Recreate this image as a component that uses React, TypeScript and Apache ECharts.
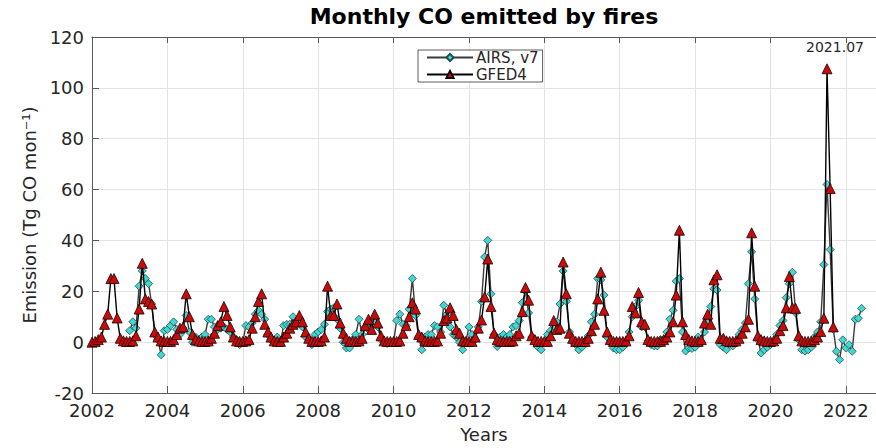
import React, { useEffect, useRef } from "react";
import * as echarts from "echarts";

// Monthly values, GFED4 from Jan 2002, AIRS v7 from Jan 2003
const gfedStartYear = 2002;
const airsStartYear = 2003;

const gfed4: number[] = [
  // 2002
  0, 0.3, 1, 2, 7, 11, 25, 25, 9.5, 1.5, 0.5, 0.3,
  // 2003
  0.3, 0.5, 2.5, 13, 31, 17, 16, 15, 4, 2, 0.5, 0.3,
  // 2004
  0.3, 0.3, 1, 3, 5.5, 6, 19, 10, 3, 1, 0.5, 0.3,
  // 2005
  0.3, 0.5, 1.5, 3.5, 6.5, 8, 14, 10.5, 6, 2, 0.5, 0.3,
  // 2006
  0.3, 0.5, 1, 5.5, 10, 16, 19, 7, 4, 2, 0.5, 0.3,
  // 2007
  0.3, 2, 3.5, 5.5, 7, 8, 10.5, 8, 4, 1.5, 0.3, 0.3,
  // 2008
  0.3, 0.5, 2, 22, 10.5, 10.5, 15, 7.5, 3.5, 1.5, 0.3, 0.3,
  // 2009
  0.3, 0.5, 1.5, 6.5, 9, 5, 11, 7.5, 2.5, 0.5, 0.3, 0.3,
  // 2010
  0.3, 0.3, 0.5, 3.5, 6.5, 10, 15.5, 13, 3, 2, 0.5, 0.3,
  // 2011
  0.3, 0.3, 0.5, 3.5, 8.5, 9.5, 13.5, 10.5, 5, 3.5, 0.5, 0.3,
  // 2012
  0.3, 0.3, 2, 5.5, 8.7, 17.8, 32.7, 14, 3.5, 1, 0.3, 0.3,
  // 2013
  0.3, 0.3, 0.5, 2.5, 3.5, 12, 21.5, 16.5, 2.5, 1, 0.3, 0.3,
  // 2014
  0.3, 0.3, 2.5, 8.5, 5, 5.5, 31.5, 19, 3.5, 1.5, 0.3, 0.3,
  // 2015
  0.3, 0.3, 1.5, 4.5, 7, 17, 27.5, 12.5, 4, 1, 0.3, 0.3,
  // 2016
  0.3, 0.3, 0.5, 2.5, 14, 11.5, 19.5, 8, 7, 1, 0.3, 0.3,
  // 2017
  0.3, 0.3, 1, 2, 4, 8, 18.5, 44, 8, 3, 1, 0.5,
  // 2018
  0.3, 0.3, 1, 7.5, 11, 7, 24.5, 26.5, 1.5, 1.5, 0.5, 0.3,
  // 2019
  0.3, 0.5, 1.5, 3.5, 6, 9, 43, 22, 2.5, 1, 0.5, 0.3,
  // 2020
  0.3, 0.5, 1.5, 4.5, 6.5, 13.5, 25.8, 13.5, 13.3, 2.5, 0.5, 0.3,
  // 2021
  0.3, 0.3, 1, 2, 4.2, 9.4, 107.5, 60.4, 6,
];

const airsV7: number[] = [
  // 2003
  4.5, 8, 5.5, 22, 28, 25, 23, 15, 3, 1, -5, 4.5,
  // 2004
  5, 6.5, 8, 5, 3, 5.5, 10.5, 4, 0, 2, 1, 2,
  // 2005
  3, 9, 9, 6, 5, 5.5, 6, 5, 4, 2, 1, -1,
  // 2006
  0, 6.5, 6, 7.5, 11, 12.5, 11, 9, 3, 1, 0, 2,
  // 2007
  0, 6.5, 7, 7, 10, 8, 9, 6, 2, 1, -1, 3,
  // 2008
  4, 5, 7, 12, 13, 13.5, 9, 5.5, 0, -2.3, -2.3, 1,
  // 2009
  3, 9, 3, 6, 5, 7, 8, 6, 1, 0, -0.5, 0,
  // 2010
  0, 8.5, 11, 7, 6.5, 13, 25, 10.5, 2, -3, 2, 3,
  // 2011
  3, 6.5, 6, 4, 14.5, 11, 6, 3, 2, 0, -3, 0,
  // 2012
  6, 3, 1, 6, 16, 33.5, 40, 19, 3, -1.7, 2, 3,
  // 2013
  2, 3, 6, 6.5, 8.5, 15.5, 20, 11.5, 2, 1, -2, -3,
  // 2014
  0, 3, 4.5, 6.5, 8, 15, 28, 16, 4, 0, -1, -3,
  // 2015
  -2, 0.5, 2.5, 8, 11, 25, 24.5, 18.5, 2, 0, -2.3, -3,
  // 2016
  -3, -2, 0, 4, 10, 14, 16.5, 6, 6, 0.5, -1, -1.5,
  // 2017
  -1.5, 1, 1, 4, 9, 12.5, 24, 25, 4, -3.5, -2.3, -2.5,
  // 2018
  -2, 2, 0, 4, 8, 14, 21, 20.5, -1, -2, -3, -1,
  // 2019
  -1.5, 0, 3, 5, 7.5, 23, 35.5, 17, 1, -4.3, -3, -2,
  // 2020
  -1, 0, 3, 6.5, 8.5, 17.5, 23, 27.5, 11.5, 1, -3, -3.5,
  // 2021
  -3, -2, 2, 4, 8, 30.5, 62, 36.4, 5, -3.6, -6.9, 0.9,
  // 2022
  -2.3, -1, -3.6, 9, 9.4, 13.3,
];

const xMin = 2002;
const xMax = 2022.8;
const xInterval = 2;
const yMin = -20;
const yMax = 120;
const yInterval = 20;
const peakLabel = "2021.07";

const FONT = "DejaVu Sans";
const AXIS_COLOR = "#5a5a5a";
const TEXT_COLOR = "#262626";
const GRID_COLOR = "#e3e3e3";

function toPairs(values: number[], startYear: number): number[][] {
  return values.map((v, i) => [startYear + i / 12, v]);
}

export default function App() {
  const ref = useRef<HTMLDivElement>(null);

  useEffect(() => {
    if (!ref.current) return;
    const chart = echarts.init(ref.current, undefined, { renderer: "svg" });

    const gfedData = toPairs(gfed4, gfedStartYear);
    const airsData = toPairs(airsV7, airsStartYear);
    let peak = gfedData[0];
    gfedData.forEach((p) => {
      if (p[1] > peak[1]) peak = p;
    });

    const xLabelFormatter = (v: number) =>
      Math.abs(v - Math.round(v)) < 1e-6 && Math.round(v) % 2 === 0 ? String(Math.round(v)) : "";

    chart.setOption({
      animation: false,
      backgroundColor: "#ffffff",
      title: {
        text: "Monthly CO emitted by fires",
        left: 484,
        top: 5,
        padding: 0,
        textAlign: "center",
        textStyle: { fontFamily: FONT, fontSize: 22, fontWeight: "bold", color: "#000" },
      },
      legend: {
        orient: "vertical",
        left: 418,
        top: 50,
        padding: [0, 4, 0, 8],
        itemGap: 2,
        itemWidth: 46,
        itemHeight: 9,
        backgroundColor: "#ffffff",
        borderColor: "#333",
        borderWidth: 0.8,
        borderRadius: 0,
        textStyle: {
          fontFamily: FONT,
          fontSize: 15,
          lineHeight: 15,
          color: TEXT_COLOR,
          padding: [0, 0, 0, -2],
        },
        data: ["AIRS, v7", "GFED4"],
      },
      grid: { left: 92, right: 0, top: 37, bottom: 51, containLabel: false },
      xAxis: [
        {
          type: "value",
          min: xMin,
          max: xMax,
          interval: xInterval,
          name: "Years",
          nameLocation: "middle",
          nameGap: 32,
          nameTextStyle: { fontFamily: FONT, fontSize: 18, color: TEXT_COLOR },
          axisLine: { show: true, onZero: false, lineStyle: { color: AXIS_COLOR, width: 1 } },
          axisTick: { show: true, inside: true, length: 7, lineStyle: { color: AXIS_COLOR } },
          axisLabel: {
            fontFamily: FONT,
            fontSize: 18,
            color: TEXT_COLOR,
            margin: 8,
            showMaxLabel: false,
            formatter: xLabelFormatter,
          },
          splitLine: { show: true, lineStyle: { color: GRID_COLOR, width: 1 } },
        },
        {
          type: "value",
          position: "top",
          min: xMin,
          max: xMax,
          interval: xInterval,
          axisLine: { show: true, onZero: false, lineStyle: { color: AXIS_COLOR, width: 1 } },
          axisTick: { show: true, inside: true, length: 6, lineStyle: { color: AXIS_COLOR } },
          axisLabel: { show: false },
          splitLine: { show: false },
        },
      ],
      yAxis: {
        type: "value",
        min: yMin,
        max: yMax,
        interval: yInterval,
        name: "Emission (Tg CO mon\u207B\u00B9)",
        nameLocation: "middle",
        nameGap: 50,
        nameRotate: 90,
        nameTextStyle: { fontFamily: FONT, fontSize: 18, color: TEXT_COLOR },
        axisLine: { show: true, onZero: false, lineStyle: { color: AXIS_COLOR, width: 1 } },
        axisTick: { show: true, inside: true, length: 7, lineStyle: { color: AXIS_COLOR } },
        axisLabel: { fontFamily: FONT, fontSize: 18, color: TEXT_COLOR, margin: 8 },
        splitLine: { show: true, lineStyle: { color: GRID_COLOR, width: 1 } },
      },
      series: [
        {
          name: "AIRS, v7",
          type: "line",
          xAxisIndex: 0,
          data: airsData,
          symbol: "diamond",
          symbolSize: 8,
          showAllSymbol: true,
          lineStyle: { color: "#3a3a3a", width: 1.4 },
          itemStyle: { color: "#45d6d2", borderColor: "#1d4f4f", borderWidth: 0.8 },
          z: 2,
        },
        {
          name: "GFED4",
          type: "line",
          xAxisIndex: 0,
          data: gfedData,
          symbol: "triangle",
          symbolSize: 10,
          showAllSymbol: true,
          lineStyle: { color: "#000000", width: 1.4 },
          itemStyle: { color: "#c80c0c", borderColor: "#1a0000", borderWidth: 0.8 },
          z: 3,
          markPoint: {
            symbol: "circle",
            symbolSize: 1,
            itemStyle: { color: "transparent" },
            data: [
              {
                coord: [peak[0], peak[1]],
                label: {
                  show: true,
                  formatter: peakLabel,
                  position: "top",
                  offset: [8, -9],
                  fontFamily: FONT,
                  fontSize: 14,
                  color: TEXT_COLOR,
                },
              },
            ],
          },
        },
      ],
    });

    return () => chart.dispose();
  }, []);

  return (
    <div
      ref={ref}
      style={{ position: "fixed", left: 0, top: 0, width: 876, height: 448, background: "#fff" }}
    />
  );
}
